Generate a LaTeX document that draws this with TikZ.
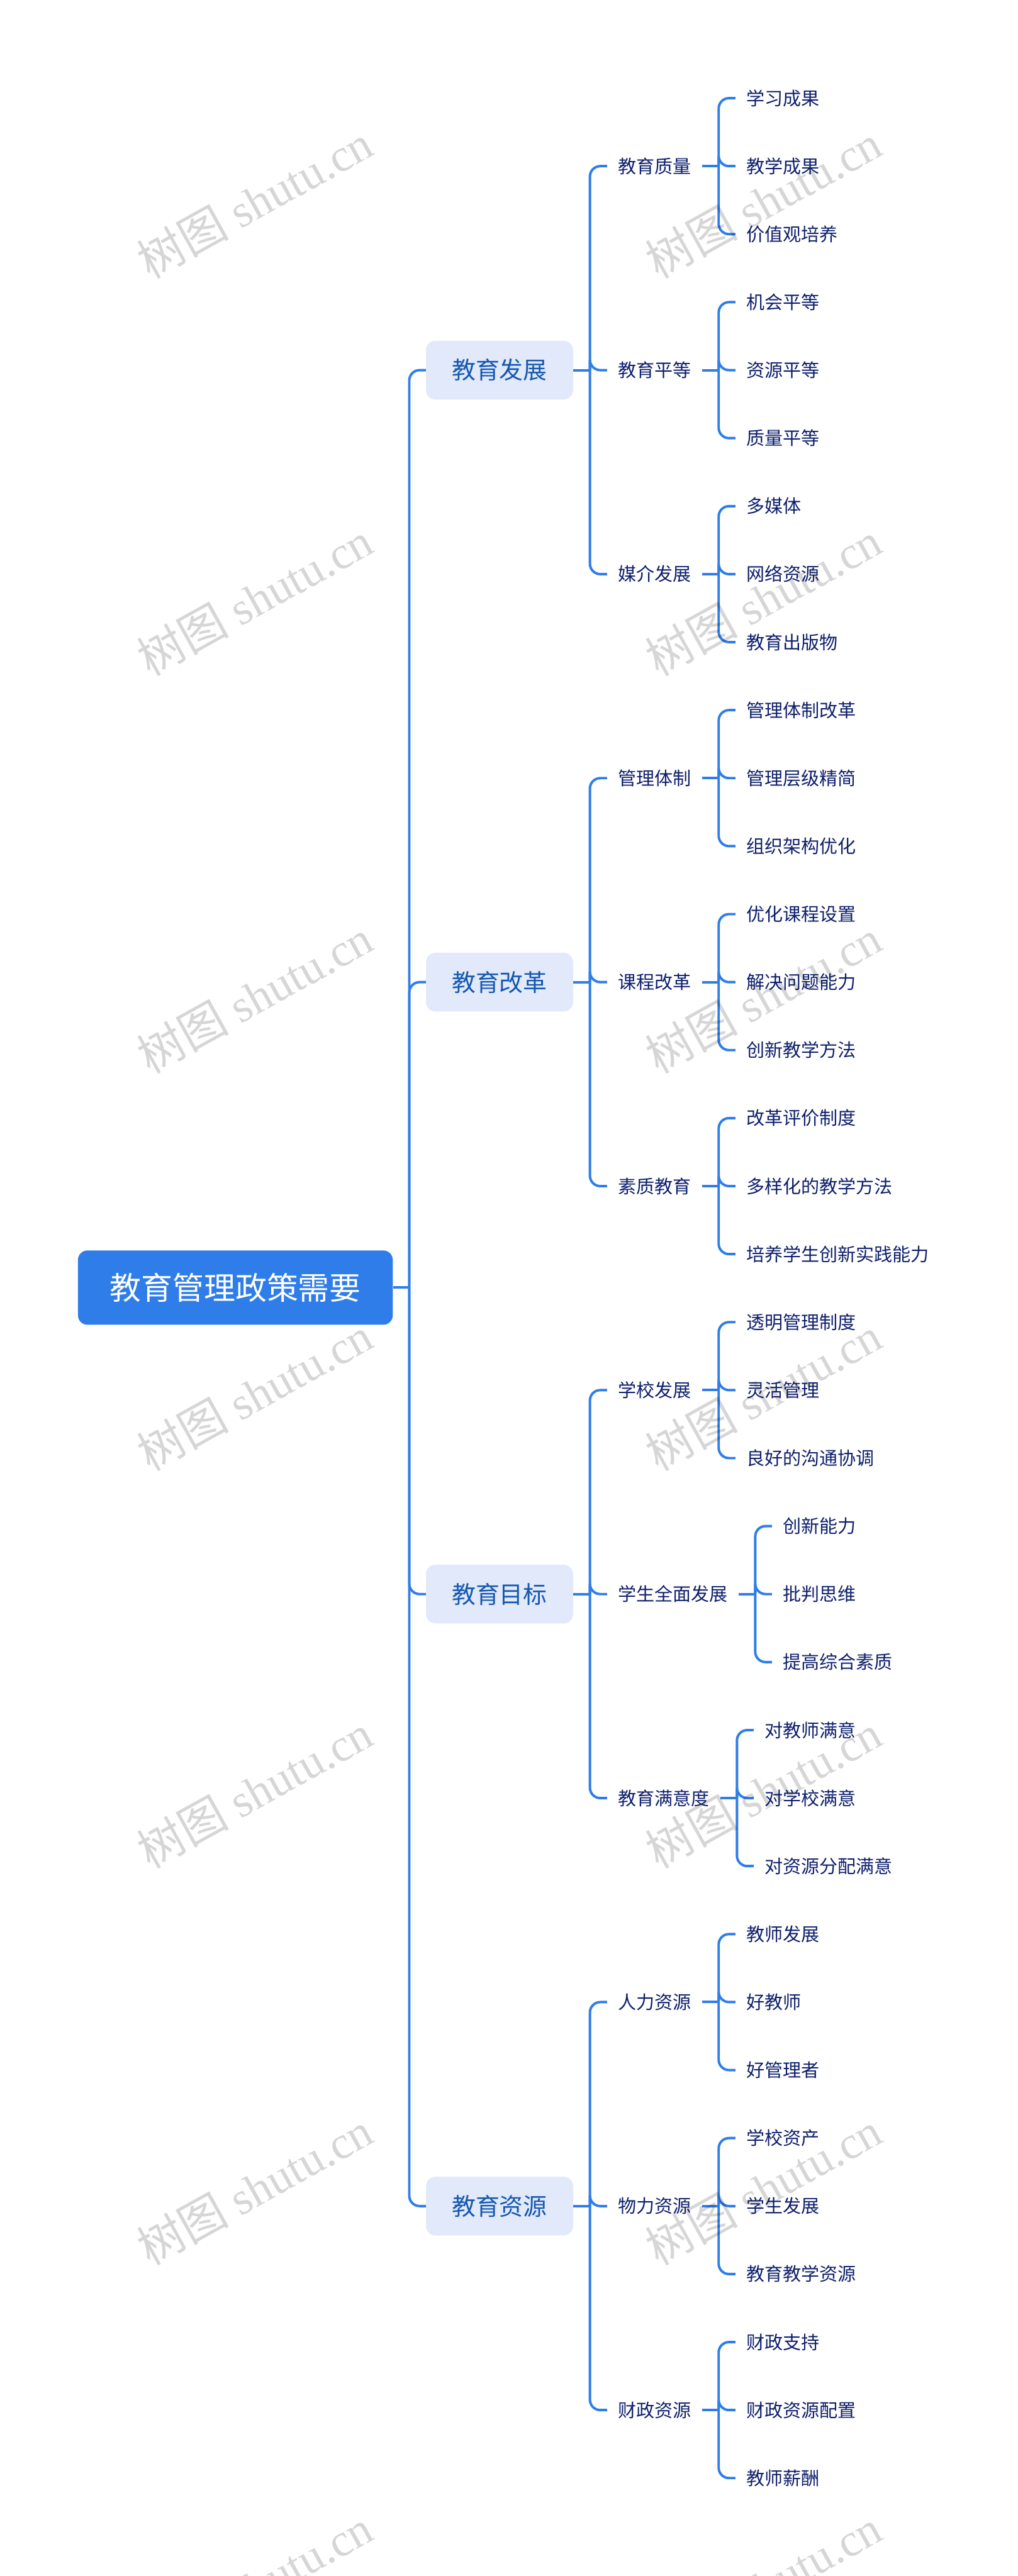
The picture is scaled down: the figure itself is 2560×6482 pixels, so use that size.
\documentclass[tikz,border=0pt]{standalone}
\usepackage{fontspec}
\setmainfont{Liberation Serif}
\newfontfamily\cjkfont{Noto Sans CJK SC}
\definecolor{linecol}{HTML}{2F7DE9}
\definecolor{rootfill}{HTML}{2F7DE9}
\definecolor{topfill}{HTML}{E1E9FB}
\definecolor{toptext}{HTML}{1558B0}
\definecolor{leaftext}{HTML}{0E1F6B}
\tikzset{
  rootbox/.style={fill=rootfill,text=white,rounded corners=12pt,inner xsep=40pt,inner ysep=0pt,minimum height=93.5pt,
    font=\cjkfont\fontsize{39.5}{48}\selectfont,text height=34pt,text depth=4pt},
  topbox/.style={fill=topfill,text=toptext,rounded corners=12pt,inner xsep=32.5pt,inner ysep=0pt,minimum height=74pt,
    font=\cjkfont\fontsize{30}{36}\selectfont,text height=25.8pt,text depth=3pt},
  midbox/.style={text=leaftext,inner xsep=13.5pt,inner ysep=0pt,
    font=\cjkfont\fontsize{23}{28}\selectfont,text height=19.8pt,text depth=2.3pt},
  leafbox/.style={midbox},
  conn/.style={draw=linecol,line width=3.1pt},
  curved conn/.style={conn,rounded corners=13pt},
  wmark/.style={text=black,text opacity=0.16,rotate=29,inner sep=0pt,font=\fontsize{58}{62}\selectfont}
}
\newcommand{\TopNode}[3]{%
  \node[topbox,anchor=west] (#1) at (1071,{247+171.1*#3}) {#2};
  \path (#1.east) ++(42,0) coordinate (#1j);
  \draw[conn] (#1.east) -- (#1j);
  \draw[curved conn] (rootj) -- (rootj |- #1.west) -- (#1.west);
}
\newcommand{\MidNode}[4]{%
  \path (#1j) ++(43,0) coordinate (#2t);
  \path (0,{247+171.1*#3}) coordinate (#2r);
  \node[midbox,anchor=west] (#2) at (#2t |- #2r) {#4};
  \path (#2.east) ++(42,0) coordinate (#2j);
  \draw[conn] (#2.east) -- (#2j);
  \draw[curved conn] (#1j) -- (#1j |- #2.west) -- (#2.west);
}
\newcommand{\LeafNode}[4]{%
  \path (#1j) ++(42,0) coordinate (#2t);
  \path (0,{247+171.1*#3}) coordinate (#2r);
  \node[leafbox,anchor=west] (#2) at (#2t |- #2r) {#4};
  \draw[curved conn] (#1j) -- (#1j |- #2.west) -- (#2.west);
}
\begin{document}
\begin{tikzpicture}[x=0.5pt,y=-0.5pt]
\useasboundingbox (0,0) rectangle (2560,6482);
\node[rootbox,anchor=center] (root) at (592,3240) {教育管理政策需要};
\path (root.east) ++(41,0) coordinate (rootj);
\draw[conn] (root.east) -- (rootj);

\TopNode{a}{教育发展}{4}
\TopNode{b}{教育改革}{13}
\TopNode{c}{教育目标}{22}
\TopNode{d}{教育资源}{31}

\MidNode{a}{aa}{1}{教育质量}
\LeafNode{aa}{aaa}{0}{学习成果}
\LeafNode{aa}{aab}{1}{教学成果}
\LeafNode{aa}{aac}{2}{价值观培养}
\MidNode{a}{ab}{4}{教育平等}
\LeafNode{ab}{aba}{3}{机会平等}
\LeafNode{ab}{abb}{4}{资源平等}
\LeafNode{ab}{abc}{5}{质量平等}
\MidNode{a}{ac}{7}{媒介发展}
\LeafNode{ac}{aca}{6}{多媒体}
\LeafNode{ac}{acb}{7}{网络资源}
\LeafNode{ac}{acc}{8}{教育出版物}

\MidNode{b}{ba}{10}{管理体制}
\LeafNode{ba}{baa}{9}{管理体制改革}
\LeafNode{ba}{bab}{10}{管理层级精简}
\LeafNode{ba}{bac}{11}{组织架构优化}
\MidNode{b}{bb}{13}{课程改革}
\LeafNode{bb}{bba}{12}{优化课程设置}
\LeafNode{bb}{bbb}{13}{解决问题能力}
\LeafNode{bb}{bbc}{14}{创新教学方法}
\MidNode{b}{bc}{16}{素质教育}
\LeafNode{bc}{bca}{15}{改革评价制度}
\LeafNode{bc}{bcb}{16}{多样化的教学方法}
\LeafNode{bc}{bcc}{17}{培养学生创新实践能力}

\MidNode{c}{ca}{19}{学校发展}
\LeafNode{ca}{caa}{18}{透明管理制度}
\LeafNode{ca}{cab}{19}{灵活管理}
\LeafNode{ca}{cac}{20}{良好的沟通协调}
\MidNode{c}{cb}{22}{学生全面发展}
\LeafNode{cb}{cba}{21}{创新能力}
\LeafNode{cb}{cbb}{22}{批判思维}
\LeafNode{cb}{cbc}{23}{提高综合素质}
\MidNode{c}{cc}{25}{教育满意度}
\LeafNode{cc}{cca}{24}{对教师满意}
\LeafNode{cc}{ccb}{25}{对学校满意}
\LeafNode{cc}{ccc}{26}{对资源分配满意}

\MidNode{d}{da}{28}{人力资源}
\LeafNode{da}{daa}{27}{教师发展}
\LeafNode{da}{dab}{28}{好教师}
\LeafNode{da}{dac}{29}{好管理者}
\MidNode{d}{db}{31}{物力资源}
\LeafNode{db}{dba}{30}{学校资产}
\LeafNode{db}{dbb}{31}{学生发展}
\LeafNode{db}{dbc}{32}{教育教学资源}
\MidNode{d}{dc}{34}{财政资源}
\LeafNode{dc}{dca}{33}{财政支持}
\LeafNode{dc}{dcb}{34}{财政资源配置}
\LeafNode{dc}{dcc}{35}{教师薪酬}

\begin{scope}
\clip (0,0) rectangle (2560,6482);
\foreach \cx in {640,1920}
  \foreach \cy in {507,1507,2507,3507,4507,5507,6507}
    \node[wmark] (wm\cx\cy) at (\cx,\cy) {{\cjkfont 树图} shutu.cn};
\end{scope}
\end{tikzpicture}
\end{document}
